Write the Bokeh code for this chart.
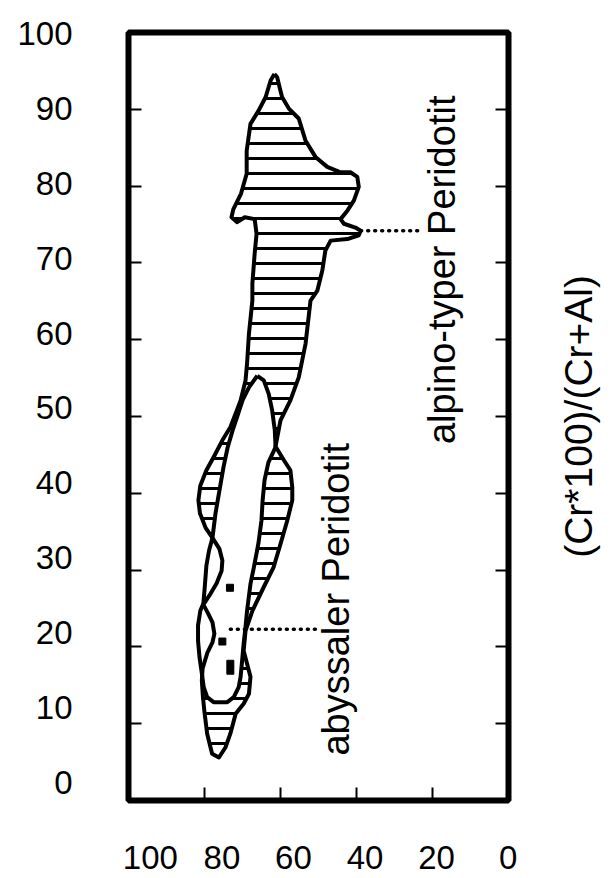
import math
from bokeh.plotting import figure
from bokeh.models import Range1d, LinearAxis, FixedTicker, ColumnDataSource
from bokeh.embed import file_html
from bokeh.resources import INLINE
from bokeh.core.properties import value

# ---------------- data ----------------
x_tick_values = [80, 60, 40, 20]
y_tick_values = [10, 20, 30, 40, 50, 60, 70, 80, 90]
x_label_values = [100, 80, 60, 40, 20, 0]
y_label_values = [0, 10, 20, 30, 40, 50, 60, 70, 80, 90, 100]
y_title = "(Cr*100)/(Cr+Al)"

# alpine-type peridotite field (hatched)
alpine_x = [61.6, 60.9, 59.6, 57.8, 55.2, 53.4, 50.8, 47.7, 44.2, 41.6, 39.8, 39.4, 40.7,
            42.4, 44.2, 43.3, 40.3, 38.9, 39.4, 42.4, 46.8, 48.2, 49.0, 50.3, 52.1, 53.4,
            55.2, 57.4, 60.0, 61.3, 59.1, 57.4, 56.9, 56.9, 58.2, 60.0, 61.8, 64.4, 67.4,
            69.2, 69.7, 68.8, 67.9, 68.3, 69.7, 71.8, 73.2, 74.5, 76.2,
            78.0, 79.3, 80.0, 80.4, 80.7, 80.5, 79.2, 77.9, 77.4, 77.9, 79.2, 80.3, 78.7,
            76.8, 75.5, 75.3, 76.1, 77.9, 79.7, 81.2, 81.6, 81.1, 79.5, 77.4, 75.3, 73.2,
            71.8, 70.5, 69.2, 68.8, 68.3, 67.4, 67.4, 66.8, 66.3, 66.8, 69.4, 71.4, 72.9,
            72.4, 70.4, 68.9, 68.9, 67.9, 65.8, 63.9, 62.6]
alpine_y = [94.6, 94.2, 91.6, 90.1, 88.8, 85.9, 83.8, 82.5, 81.8, 81.8, 81.2, 79.9, 78.1,
            76.8, 75.7, 75.1, 74.6, 74.2, 73.6, 73.1, 72.9, 71.6, 69.0, 66.4, 65.1, 59.5,
            55.1, 52.1, 49.5, 46.1, 44.3, 43.0, 40.8, 39.1, 36.5, 33.4, 30.4, 27.8, 24.7,
            22.1, 19.5, 17.8, 16.1, 13.9, 12.6, 11.3, 8.7, 6.9, 5.6,
            6.1, 8.7, 11.5, 13.4, 15.6, 17.2, 19.3, 20.6, 21.7, 23.2, 24.5, 25.5, 26.7,
            28.3, 29.9, 31.25, 32.8, 34.2, 35.5, 37.4, 39.1, 41.0, 43.0, 44.9, 46.9, 48.6,
            50.4, 52.1, 54.7, 56.9, 60.8, 65.1, 67.3, 71.2, 73.8, 75.7, 75.95, 75.3, 75.95,
            77.0, 79.0, 81.6, 84.6, 88.1, 89.8, 91.6, 93.75]

# abyssal peridotite field (blank)
abyssal_x = [66.1, 64.4, 63.1, 62.2, 61.5, 61.3, 63.2, 64.2, 64.7, 65.0, 65.8, 67.0, 67.9,
             68.8, 69.2, 69.7, 70.1, 70.5, 71.0, 72.3, 74.0, 77.6, 79.3, 80.2, 80.8, 81.3,
             81.7, 81.7, 81.1, 80.3, 79.9, 79.5, 78.8, 77.9, 77.1, 76.2, 75.0, 73.9, 72.6,
             71.3, 70.0, 68.3]
abyssal_y = [55.3, 54.7, 52.95, 50.8, 48.2, 46.0, 44.0, 41.7, 39.1, 36.5, 33.5, 30.4, 28.2,
             24.7, 22.6, 20.4, 18.2, 16.1, 14.75, 13.45, 12.8, 12.8, 13.45, 14.75, 16.9, 18.6,
             20.8, 22.8, 24.7, 25.65, 28.0, 30.6, 32.55, 34.2, 37.4, 40.0, 43.4, 46.0, 48.2,
             50.1, 52.1, 53.8]

sample_x = [73.3, 75.3, 73.2, 73.2]
sample_y = [27.7, 20.7, 17.8, 16.9]

alpine_leader_x = [38.9, 22.4]
alpine_leader_y = [74.2, 74.2]
abyssal_leader_x = [73.2, 50.3]
abyssal_leader_y = [22.3, 22.3]

field_names = ["alpino-typer Peridotit", "abyssaler Peridotit"]
field_label_x = [17.6, 45.5]
field_label_y = [69.1, 26.2]

FONT = "Liberation Sans"

p = figure(frame_width=380, frame_height=768,
           min_border_left=128, min_border_right=105, min_border_top=32, min_border_bottom=78,
           x_range=Range1d(100, 0), y_range=Range1d(0, 100),
           output_backend="svg", toolbar_location=None, tools="")
# label scales: the original's tick labels sit off their ticks (right of / above them)
p.extra_x_ranges = {"xlab": Range1d(106.1, -0.1)}
p.extra_y_ranges = {"ylab": Range1d(-2.4, 100.13), "ttl": Range1d(-31.6, 68.4)}
p.grid.visible = False
p.background_fill_color = "white"
p.border_fill_color = "white"
p.outline_line_color = "black"
p.outline_line_width = 6


def tick_axis(ax, ticks):
    ax.ticker = FixedTicker(ticks=ticks)
    ax.major_tick_in = 13
    ax.major_tick_out = 0
    ax.major_tick_line_width = 2
    ax.major_tick_line_color = "black"
    ax.minor_tick_line_color = None
    ax.axis_line_color = None
    ax.major_label_overrides = {t: "" for t in ticks}
    ax.major_label_text_font_size = "0px"
    ax.major_label_standoff = 0


def label_axis(ax, ticks, standoff, size="33px"):
    ax.ticker = FixedTicker(ticks=ticks)
    ax.major_tick_line_color = None
    ax.minor_tick_line_color = None
    ax.major_tick_in = 0
    ax.major_tick_out = 0
    ax.axis_line_color = None
    ax.major_label_standoff = standoff
    ax.major_label_text_font = FONT
    ax.major_label_text_font_size = size
    ax.major_label_text_color = "black"


tick_axis(p.xaxis[0], x_tick_values)
tick_axis(p.yaxis[0], y_tick_values)
right_axis = LinearAxis()
tick_axis(right_axis, y_tick_values)
p.add_layout(right_axis, "right")

ylab_axis = LinearAxis(y_range_name="ylab")
label_axis(ylab_axis, y_label_values, 56)
p.add_layout(ylab_axis, "left")

xlab_axis = LinearAxis(x_range_name="xlab")
label_axis(xlab_axis, x_label_values, 45)
p.add_layout(xlab_axis, "below")

title_axis = LinearAxis(y_range_name="ttl")
label_axis(title_axis, [0], 70, size="39px")
title_axis.major_label_overrides = {0: y_title}
title_axis.major_label_orientation = math.pi / 2
p.add_layout(title_axis, "right")

# fields
p.patch(alpine_x, alpine_y, fill_color="white", line_color=None,
        hatch_pattern="-", hatch_scale=15, hatch_weight=3, hatch_color="black")
p.patch(abyssal_x, abyssal_y, fill_color="white", line_color=None)
p.line(alpine_x + alpine_x[:1], alpine_y + alpine_y[:1], line_color="black",
       line_width=4, line_join="round")
p.line(abyssal_x + abyssal_x[:1], abyssal_y + abyssal_y[:1], line_color="black",
       line_width=4, line_join="round")

p.scatter(sample_x, sample_y, marker="square", size=7, color="black")

for lx, ly in ((alpine_leader_x, alpine_leader_y), (abyssal_leader_x, abyssal_leader_y)):
    p.line(lx, ly, line_color="black", line_width=3.5, line_dash="1 6", line_cap="round")

src = ColumnDataSource(dict(x=field_label_x, y=field_label_y, t=field_names))
p.text(x="x", y="y", text="t", source=src, angle=90, angle_units="deg",
       text_align="center", text_baseline="middle", text_color="black",
       text_font=value(FONT), text_font_size="38px")

open("out.html", "w").write(file_html(p, INLINE))
